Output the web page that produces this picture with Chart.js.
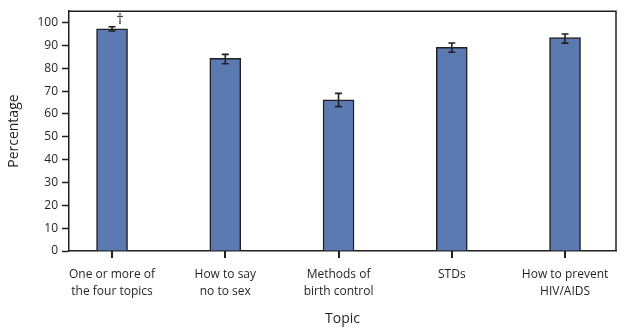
<!DOCTYPE html>
<html>
<head>
<meta charset="utf-8">
<script src="https://cdn.jsdelivr.net/npm/chart.js@4"></script>
<style>
  html, body { margin: 0; padding: 0; background: #fff; }
  canvas { display: block; }
</style>
</head>
<body>
<canvas id="chart" width="631" height="329"></canvas>
<script>
const topics = [
  ['One or more of', 'the four topics'],
  ['How to say', 'no to sex'],
  ['Methods of', 'birth control'],
  ['STDs'],
  ['How to prevent', 'HIV/AIDS']
];
const percent = [97.3, 84.4, 66.2, 89.2, 93.4];
const ciLow = [96.3, 82.0, 63.2, 87.0, 91.0];
const ciHigh = [98.2, 86.1, 69.0, 91.1, 95.0];
const marks = ['†', '', '', '', ''];
const yTicks = [0, 10, 20, 30, 40, 50, 60, 70, 80, 90, 100];

const ink = '#231f20';
const font = '"Open Sans", "DejaVu Sans", sans-serif';

// frame around plot area, x tick marks, error bars, dagger
const extras = {
  id: 'extras',
  afterDraw(chart) {
    const ctx = chart.ctx;
    const y = chart.scales.y;
    const a = chart.chartArea;
    const meta = chart.getDatasetMeta(0);
    ctx.save();
    ctx.strokeStyle = ink;
    ctx.fillStyle = ink;
    meta.data.forEach((bar, i) => {
      const top = y.getPixelForValue(ciHigh[i]);
      const bot = y.getPixelForValue(ciLow[i]);
      ctx.lineWidth = 1.6;
      ctx.beginPath();
      ctx.moveTo(bar.x, top); ctx.lineTo(bar.x, bot);
      ctx.moveTo(bar.x - 3.5, top); ctx.lineTo(bar.x + 3.5, top);
      ctx.moveTo(bar.x - 3.5, bot); ctx.lineTo(bar.x + 3.5, bot);
      ctx.stroke();
      // x tick mark under each category
      ctx.fillRect(Math.round(bar.x) - 1, a.bottom, 2, 7);
      if (marks[i]) {
        ctx.font = '15px ' + font;
        ctx.textAlign = 'center';
        ctx.textBaseline = 'bottom';
        ctx.fillText(marks[i], bar.x + 8, top + 1);
      }
    });
    ctx.lineWidth = 1.5;
    ctx.beginPath();
    ctx.moveTo(a.left, a.top); ctx.lineTo(a.right, a.top); ctx.lineTo(a.right, a.bottom);
    ctx.stroke();
    ctx.restore();
  }
};

new Chart(document.getElementById('chart'), {
  type: 'bar',
  data: {
    datasets: [{
      data: percent.map((v, i) => ({ x: i, y: v })),
      backgroundColor: '#5b7ab2',
      borderColor: ink,
      borderWidth: 1.5,
      barThickness: 31
    }]
  },
  options: {
    responsive: false,
    devicePixelRatio: 1,
    animation: false,
    layout: { padding: { top: 11, right: 15, left: 0, bottom: 0 } },
    plugins: { legend: { display: false }, tooltip: { enabled: false } },
    scales: {
      x: {
        type: 'linear',
        offset: false,
        min: -0.38,
        max: 4.45,
        afterBuildTicks: s => { s.ticks = topics.map((t, i) => ({ value: i })); },
        afterFit: s => { s.height = 78; },
        ticks: {
          callback: (v) => topics[v],
          color: ink,
          font: { family: font, size: 12, lineHeight: 1.4 },
          padding: 15,
          maxRotation: 0,
          autoSkip: false
        },
        grid: { display: true, drawOnChartArea: false, drawTicks: false },
        border: { color: ink, width: 1.5 },
        title: {
          display: true,
          text: 'Topic',
          color: ink,
          font: { family: font, size: 14 },
          padding: { top: 0, bottom: 2 }
        }
      },
      y: {
        min: 0,
        max: 105,
        afterBuildTicks: s => { s.ticks = yTicks.map(v => ({ value: v })); },
        afterFit: s => { s.width = 69; },
        ticks: {
          color: ink,
          font: { family: font, size: 12 },
          padding: 4
        },
        grid: { drawOnChartArea: false, tickLength: 7, tickColor: ink, tickWidth: 1.5 },
        border: { color: ink, width: 1.5 },
        title: {
          display: true,
          text: 'Percentage',
          color: ink,
          font: { family: font, size: 14 },
          padding: { top: 6, bottom: 0 }
        }
      }
    }
  },
  plugins: [extras]
});
</script>
</body>
</html>
